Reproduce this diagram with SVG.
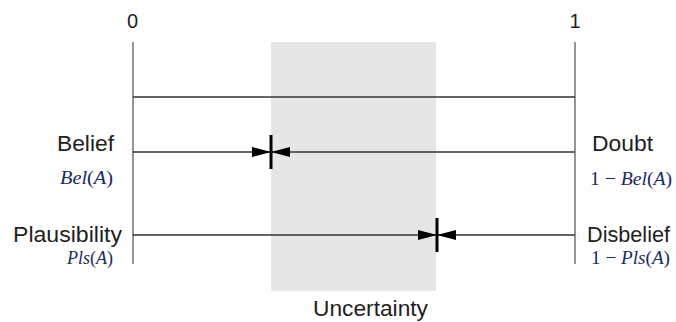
<svg xmlns="http://www.w3.org/2000/svg" width="676" height="322" viewBox="0 0 676 322">
<style>
.lbl{font-family:"Liberation Sans",Arial,sans-serif;font-size:22px;fill:#1e1e1e}
.num{font-family:"Liberation Sans",Arial,sans-serif;font-size:20px;fill:#1e1e1e}
.math{font-family:"Liberation Serif","Times New Roman",serif;font-size:19px;fill:#1c2a5c}
.it{font-style:italic}
.axis{stroke:#7a7a7a;stroke-width:1.6;fill:none}
.hline{stroke:#333;stroke-width:1.6;fill:none}
</style>
<defs>
<g id="bowtie">
<polygon points="-19,-5 -19,5 0,0" fill="#000"/>
<polygon points="19,-5 19,5 0,0" fill="#000"/>
<line x1="0" y1="-17" x2="0" y2="17" stroke="#000" stroke-width="3"/>
</g>
</defs>
<rect width="676" height="322" fill="#fff"/>
<g id="uncertainty">
<rect x="271" y="42" width="165" height="249" fill="#e6e6e6"/>
<text class="lbl" x="313" y="316" textLength="115" lengthAdjust="spacingAndGlyphs">Uncertainty</text>
</g>
<g id="scale">
<line class="axis" x1="133" y1="42" x2="133" y2="264"/>
<line class="axis" x1="575" y1="42" x2="575" y2="264"/>
<text class="num" x="132.5" y="28" text-anchor="middle">0</text>
<text class="num" x="575" y="28" text-anchor="middle">1</text>
</g>
<g id="connectors">
<line class="hline" x1="133" y1="97" x2="575" y2="97"/>
<line class="hline" x1="133" y1="152" x2="575" y2="152"/>
<line class="hline" x1="133" y1="235" x2="575" y2="235"/>
<use href="#bowtie" x="271" y="152"/>
<use href="#bowtie" x="437" y="235"/>
</g>
<g id="belief">
<text class="lbl" x="57" y="151" textLength="57" lengthAdjust="spacingAndGlyphs">Belief</text>
<text class="math" x="60" y="184" textLength="53" lengthAdjust="spacingAndGlyphs"><tspan class="it">Bel</tspan>(<tspan class="it">A</tspan>)</text>
</g>
<g id="plausibility">
<text class="lbl" x="13" y="242" textLength="109" lengthAdjust="spacingAndGlyphs">Plausibility</text>
<text class="math" x="67" y="264" textLength="46" lengthAdjust="spacingAndGlyphs"><tspan class="it">Pls</tspan>(<tspan class="it">A</tspan>)</text>
</g>
<g id="doubt">
<text class="lbl" x="592" y="151" textLength="61" lengthAdjust="spacingAndGlyphs">Doubt</text>
<text class="math" x="590" y="185" textLength="82" lengthAdjust="spacingAndGlyphs">1 − <tspan class="it">Bel</tspan>(<tspan class="it">A</tspan>)</text>
</g>
<g id="disbelief">
<text class="lbl" x="587" y="242" textLength="83" lengthAdjust="spacingAndGlyphs">Disbelief</text>
<text class="math" x="591" y="264" textLength="79" lengthAdjust="spacingAndGlyphs">1 − <tspan class="it">Pls</tspan>(<tspan class="it">A</tspan>)</text>
</g>
</svg>
